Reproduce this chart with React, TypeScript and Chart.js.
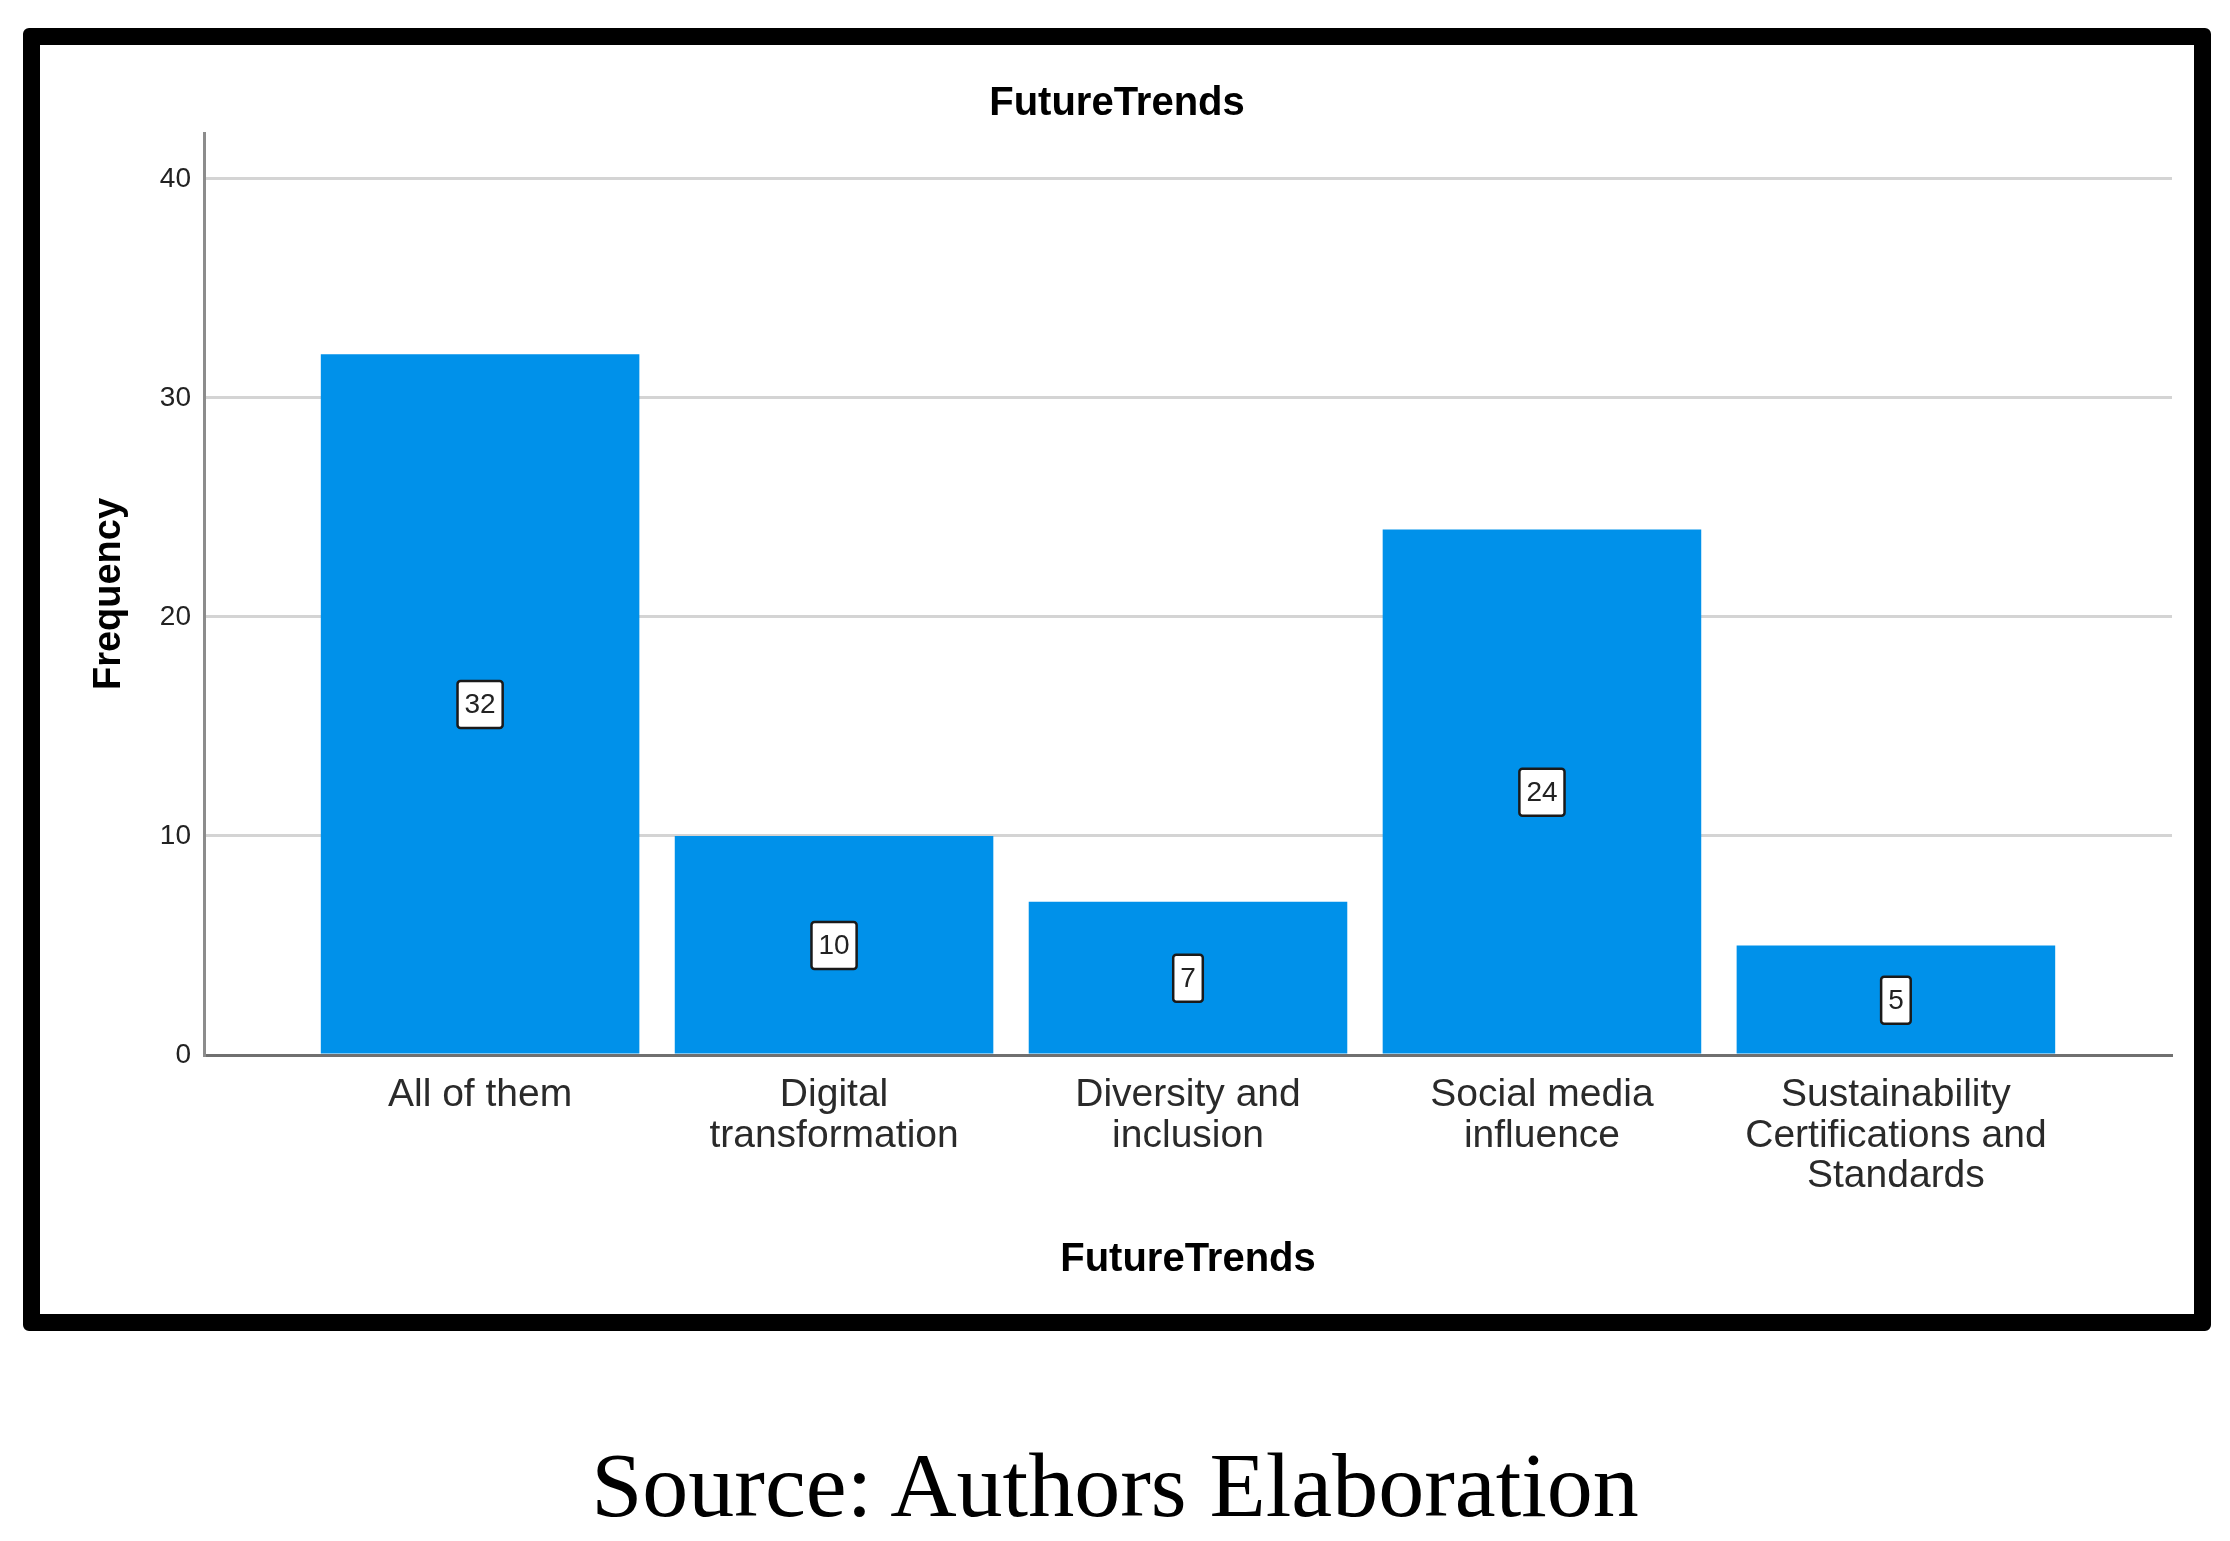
import { useEffect, useRef } from 'react';
import { Chart, registerables, Plugin } from 'chart.js';

Chart.register(...registerables);

const categories = [
  ['All of them'],
  ['Digital', 'transformation'],
  ['Diversity and', 'inclusion'],
  ['Social media', 'influence'],
  ['Sustainability', 'Certifications and', 'Standards'],
];
const frequencies = [32, 10, 7, 24, 5];
const yTicks = [0, 10, 20, 30, 40];

const SANS = '"Liberation Sans", Arial, sans-serif';

// white boxed value label in the middle of each bar
const barLabels: Plugin<'bar'> = {
  id: 'barLabels',
  afterDatasetsDraw(chart) {
    const { ctx } = chart;
    const yScale = chart.scales.y;
    const meta = chart.getDatasetMeta(0);
    ctx.save();
    ctx.font = `28px ${SANS}`;
    ctx.textAlign = 'center';
    ctx.textBaseline = 'middle';
    meta.data.forEach((bar, i) => {
      const text = String(frequencies[i]);
      const cx = bar.x;
      const cy = yScale.getPixelForValue(frequencies[i] / 2);
      const w = ctx.measureText(text).width + 14;
      const h = 47;
      ctx.beginPath();
      ctx.roundRect(cx - w / 2, cy - h / 2, w, h, 3);
      ctx.fillStyle = '#ffffff';
      ctx.fill();
      ctx.lineWidth = 2.5;
      ctx.strokeStyle = '#1a1a1a';
      ctx.stroke();
      ctx.fillStyle = '#222222';
      ctx.fillText(text, cx, cy + 1);
    });
    ctx.restore();
  },
};

export default function App() {
  const chartRef = useRef<HTMLCanvasElement>(null);
  const chartInstance = useRef<Chart | null>(null);

  useEffect(() => {
    if (!chartRef.current) return;
    if (chartInstance.current) chartInstance.current.destroy();

    Chart.defaults.font.family = SANS;

    chartInstance.current = new Chart(chartRef.current, {
      type: 'bar',
      data: {
        datasets: [
          {
            label: 'Frequency',
            data: frequencies.map((v, i) => ({ x: i, y: v })),
            backgroundColor: '#0091EA',
            borderWidth: 0,
            barPercentage: 0.9,
            categoryPercentage: 1,
          },
        ],
      },
      options: {
        animation: false,
        responsive: false,
        devicePixelRatio: 1,
        layout: { padding: { left: 22, right: 22, top: 0, bottom: 0 } },
        plugins: {
          legend: { display: false },
          tooltip: { enabled: false },
          title: {
            display: true,
            text: 'FutureTrends',
            color: '#000000',
            font: { size: 40, weight: 'bold', family: SANS },
            padding: { top: 35, bottom: 5 },
          },
        },
        scales: {
          x: {
            type: 'linear',
            min: -0.78,
            max: 4.78,
            offset: false,
            grid: { display: false, drawTicks: false },
            border: { display: true, color: '#707070', width: 3 },
            afterBuildTicks: (axis) => {
              axis.ticks = categories.map((_, i) => ({ value: i }));
            },
            ticks: {
              callback: (v) => categories[Number(v)] ?? '',
              color: '#2a2a2a',
              font: { size: 39, lineHeight: 1.04, family: SANS },
              padding: 20,
              maxRotation: 0,
              autoSkip: false,
            },
            title: {
              display: true,
              text: 'FutureTrends',
              color: '#000000',
              font: { size: 40, weight: 'bold', family: SANS },
              padding: { top: 0, bottom: 30 },
            },
            afterFit: (scale) => {
              scale.height = 259;
            },
          },
          y: {
            min: 0,
            max: 42.1,
            afterBuildTicks: (axis) => {
              axis.ticks = yTicks.map((v) => ({ value: v }));
            },
            grid: {
              drawTicks: false,
              lineWidth: 3,
              color: (c) => (c.tick && c.tick.value === 0 ? 'rgba(0,0,0,0)' : '#d4d4d4'),
            },
            border: { display: true, color: '#8c8c8c', width: 3 },
            ticks: {
              color: '#222222',
              font: { size: 28, family: SANS },
              padding: 13,
            },
            title: {
              display: true,
              text: 'Frequency',
              color: '#000000',
              font: { size: 38, weight: 'bold', family: SANS },
              padding: { top: 25, bottom: 0 },
            },
            afterFit: (scale) => {
              scale.width = 142;
            },
          },
        },
      },
      plugins: [barLabels],
    });

    return () => {
      if (chartInstance.current) {
        chartInstance.current.destroy();
        chartInstance.current = null;
      }
    };
  }, []);

  return (
    <div style={{ position: 'absolute', left: 0, top: 0, width: 2230, height: 1541, background: '#fff' }}>
      <div
        style={{
          position: 'absolute',
          left: 23,
          top: 28,
          width: 2188,
          height: 1303,
          border: '17px solid #000',
          borderRadius: 6,
          boxSizing: 'border-box',
          background: '#fff',
        }}
      >
        <canvas ref={chartRef} width={2154} height={1269} style={{ display: 'block', width: 2154, height: 1269 }} />
      </div>
      <div
        style={{
          position: 'absolute',
          left: 0,
          top: 1439,
          width: 2230,
          textAlign: 'center',
          fontFamily: '"Liberation Serif", "Times New Roman", serif',
          fontSize: 92,
          lineHeight: 1,
          color: '#000',
        }}
      >
        Source: Authors Elaboration
      </div>
    </div>
  );
}
